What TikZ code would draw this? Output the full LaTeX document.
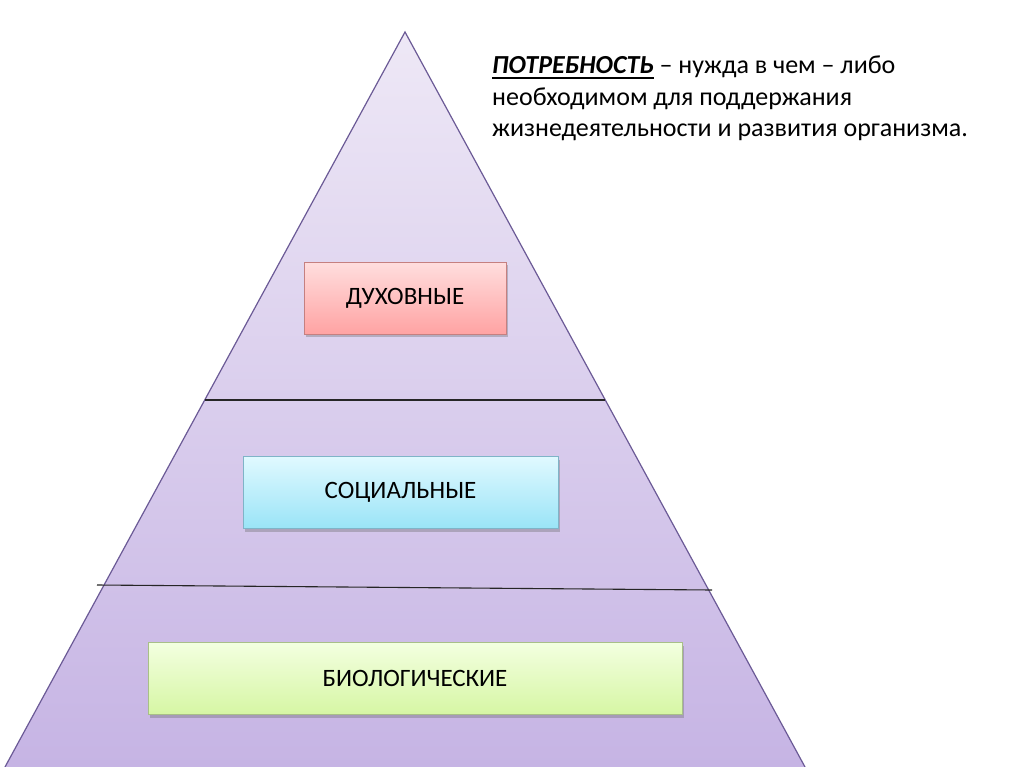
\documentclass[tikz,border=0pt]{standalone}
\usepackage{fontspec}
\setmainfont{Carlito}
\usetikzlibrary{shadows}
\definecolor{pyrtop}{HTML}{EEE8F6}
\definecolor{pyrbot}{HTML}{C6B4E4}
\definecolor{pyredge}{HTML}{6B5A96}
\definecolor{pinktop}{HTML}{FFDEDE}
\definecolor{pinkbot}{HTML}{FFA3A3}
\definecolor{pinkedge}{HTML}{C58080}
\definecolor{bluetop}{HTML}{E0F9FF}
\definecolor{bluebot}{HTML}{9AE4F7}
\definecolor{blueedge}{HTML}{7FB4C8}
\definecolor{greentop}{HTML}{F3FFE0}
\definecolor{greenbot}{HTML}{D6F6A4}
\definecolor{greenedge}{HTML}{A8BF88}
\newcommand{\thickul}[1]{\leavevmode\setbox0\hbox{#1}\rlap{\vrule height -3.2pt depth 5.2pt width \wd0}\box0\relax}
\tikzset{
  levelbox/.style={draw, line width=0.8pt, minimum height=72pt, inner sep=0pt,
    font=\fontsize{25}{30}\selectfont, text=black,
    drop shadow={shadow xshift=2pt, shadow yshift=-3pt, opacity=0.35, fill=black!60}},
  divider/.style={draw=black!85, line width=1.1pt}
}
\begin{document}
\begin{tikzpicture}[x=1pt,y=-1pt]
\useasboundingbox (0,0) rectangle (1024,767);
\fill[white] (0,0) rectangle (1024,767);
\coordinate (apex) at (405,32);
\coordinate (bl) at (5,767);
\coordinate (br) at (805,767);
\shade[top color=pyrtop, bottom color=pyrbot] (apex) -- (br) -- (bl) -- cycle;
\draw[pyredge, line width=1.2pt] (bl) -- (apex) -- (br);
\coordinate (d1l) at (205,400);
\coordinate (d1r) at (605,400);
\coordinate (d2l) at (97,585);
\coordinate (d2r) at (712,590);
\draw[divider] (d1l) -- (d1r);
\draw[divider] (d2l) -- (d2r);
\node[levelbox, draw=pinkedge, top color=pinktop, bottom color=pinkbot, minimum width=202pt] (spirit) at (405,298) {ДУХОВНЫЕ};
\node[levelbox, draw=blueedge, top color=bluetop, bottom color=bluebot, minimum width=315pt] (social) at (400.5,492.5) {СОЦИАЛЬНЫЕ};
\node[levelbox, draw=greenedge, top color=greentop, bottom color=greenbot, minimum width=534pt] (bio) at (415,678.5) {БИОЛОГИЧЕСКИЕ};
\node[anchor=north west, align=left, inner sep=0pt, font=\fontsize{26}{31.5}\selectfont] (def) at (492,56)
 {\thickul{\textbf{\textit{ПОТРЕБНОСТЬ}}} – нужда в чем – либо\\необходимом для поддержания\\жизнедеятельности и развития организма.};
\end{tikzpicture}
\end{document}
